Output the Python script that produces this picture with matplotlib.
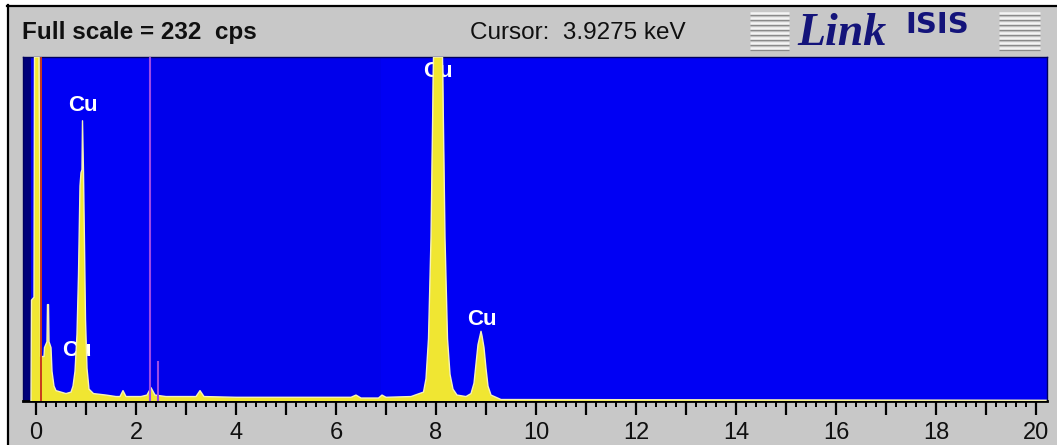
import numpy as np
import matplotlib
matplotlib.use("Agg")
import matplotlib.pyplot as plt
from matplotlib.ticker import FixedLocator, FuncFormatter

# EDX spectrum, energy in keV against counts (full scale 232 cps)
full_scale = 232
spectrum_kev = [-0.10, -0.09, -0.04, -0.03, 0.06, 0.08, 0.09, 0.16, 0.17, 0.22,
                0.23, 0.25, 0.26, 0.30, 0.32, 0.36, 0.40, 0.50, 0.60, 0.70,
                0.74, 0.78, 0.82, 0.85, 0.88, 0.90, 0.92, 0.93, 0.95, 0.97,
                0.99, 1.02, 1.06, 1.15, 1.40, 1.60, 1.68, 1.74, 1.80, 2.10,
                2.22, 2.30, 2.38, 2.60, 3.20, 3.28, 3.36, 4.00, 5.00, 6.30,
                6.40, 6.50, 6.85, 6.92, 7.00, 7.50, 7.75, 7.80, 7.85, 7.90,
                7.95, 8.00, 8.04, 8.08, 8.13, 8.18, 8.23, 8.28, 8.34, 8.42,
                8.60, 8.70, 8.76, 8.80, 8.84, 8.88, 8.90, 8.92, 8.96, 9.00,
                9.04, 9.10, 9.20, 9.30, 20.20]
spectrum_cps = [0, 68, 70, 400, 400, 120, 30, 30, 36, 40,
                65, 65, 40, 36, 20, 10, 7, 6, 5, 6,
                10, 20, 45, 85, 145, 154, 156, 189, 154, 105,
                55, 22, 8, 5, 4, 3, 3, 7, 3, 3,
                4, 9, 4, 3, 3, 7, 3, 2.5, 2.5, 2.5,
                4, 2, 2, 4, 2.5, 3, 6, 15, 42, 110,
                260, 400, 440, 400, 260, 110, 42, 18, 8, 4,
                3, 5, 12, 25, 38, 44, 47, 44, 36, 22,
                10, 4, 2.5, 1, 0.5]

# element labels: (text, energy, height in cps)
label_text = ["Cu", "Cu", "Cu", "Cu"]
label_kev = [0.93, 0.82, 8.04, 8.92]
label_cps = [199, 34, 222, 55]

# cursor / window markers in keV
marker_red = 0.10
marker_window = [2.28, 2.44]
marker_window_top = [full_scale, 26]

header_left = "Full scale = 232  cps"
header_cursor = "Cursor:  3.9275 keV"

W, H = 1057, 445
fig = plt.figure(figsize=(W / 100, H / 100), dpi=100)
fig.patch.set_facecolor("white")

# window frame and header drawn in pixel coordinates
bg = fig.add_axes([0, 0, 1, 1])
bg.set_xlim(0, W)
bg.set_ylim(H, 0)
bg.axis("off")
bg.add_patch(plt.Rectangle((7, 5), W, H, facecolor="#c8c8c8", edgecolor="none"))
bg.plot([7, W], [5.5, 5.5], color="black", lw=1.6)
bg.plot([7.5, 7.5], [5, H], color="black", lw=1.6)

bg.text(22, 33, header_left, fontsize=17.5, fontweight="bold", family="Liberation Sans",
        color="#101010", va="center", ha="left")
bg.text(470, 33, header_cursor, fontsize=17.5, family="Liberation Sans",
        color="#101010", va="center", ha="left")
bg.text(797, 45, "Link", fontsize=33, fontweight="bold", fontstyle="italic",
        family="Liberation Serif", color="#14147a", va="baseline", ha="left")
bg.text(905, 33, "ISIS", fontsize=21, fontweight="bold", family="DejaVu Sans",
        color="#14147a", va="baseline", ha="left")

# grille decoration either side of the logo
for x0, x1 in [(750, 789), (999, 1040)]:
    for k in range(8):
        y = 13 + k * 5
        bg.plot([x0, x1], [y, y], color="#f4f4f4", lw=1.8, solid_capstyle="butt")
        bg.plot([x0, x1], [y + 2.2, y + 2.2], color="#8a8a8a", lw=0.9, solid_capstyle="butt")

# spectrum axes: energy -0.26..20.22 keV spans x 23..1047, counts 0..232 spans y 401..57
x_left, x_right, y_top, y_base = 23, 1047, 57, 401
ax = fig.add_axes([x_left / W, (H - y_base) / H, (x_right - x_left) / W, (y_base - y_top) / H])
ax.set_xlim(-0.26, 20.22)
ax.set_ylim(0, full_scale)
ax.set_facecolor("#0000f4")
ax.axvspan(2.3, 6.9, color="#0000eb", lw=0, zorder=0)
ax.axvspan(-0.26, -0.10, color="#00007a", lw=0, zorder=0.5)

ax.fill_between(spectrum_kev, spectrum_cps, 0, color="#f0e632", lw=0, zorder=3)
ax.plot(spectrum_kev, np.minimum(spectrum_cps, full_scale), color="#f6f2b8", lw=1.0, zorder=3.2)

for t, e, c in zip(label_text, label_kev, label_cps):
    ax.text(e, c, t, color="white", fontsize=16, fontweight="bold", family="Liberation Sans",
            ha="center", va="center", zorder=2)

ax.axvline(marker_red, color="#c83a1c", lw=1.4, zorder=4)
for e, top in zip(marker_window, marker_window_top):
    ax.plot([e, e], [0, top], color="#9a4ae6", lw=1.5, zorder=4)

for side in ["top", "right", "left"]:
    ax.spines[side].set_color("#000060")
    ax.spines[side].set_linewidth(1.0)
ax.spines["bottom"].set_color("black")
ax.spines["bottom"].set_linewidth(2.0)

ax.yaxis.set_visible(False)
ax.xaxis.set_major_locator(FixedLocator(np.arange(0, 21, 1)))
ax.xaxis.set_minor_locator(FixedLocator(np.arange(0, 101) * 0.2))
ax.xaxis.set_major_formatter(FuncFormatter(lambda v, p: f"{int(round(v))}" if int(round(v)) % 2 == 0 else ""))
ax.tick_params(axis="x", which="major", length=10, width=1.6, color="black",
               pad=5, labelsize=17, labelcolor="#101010")
ax.tick_params(axis="x", which="minor", length=4.5, width=1.4, color="black")
for lab in ax.get_xticklabels():
    lab.set_family("Liberation Sans")

fig.savefig("out.png", dpi=100, facecolor=fig.get_facecolor())
